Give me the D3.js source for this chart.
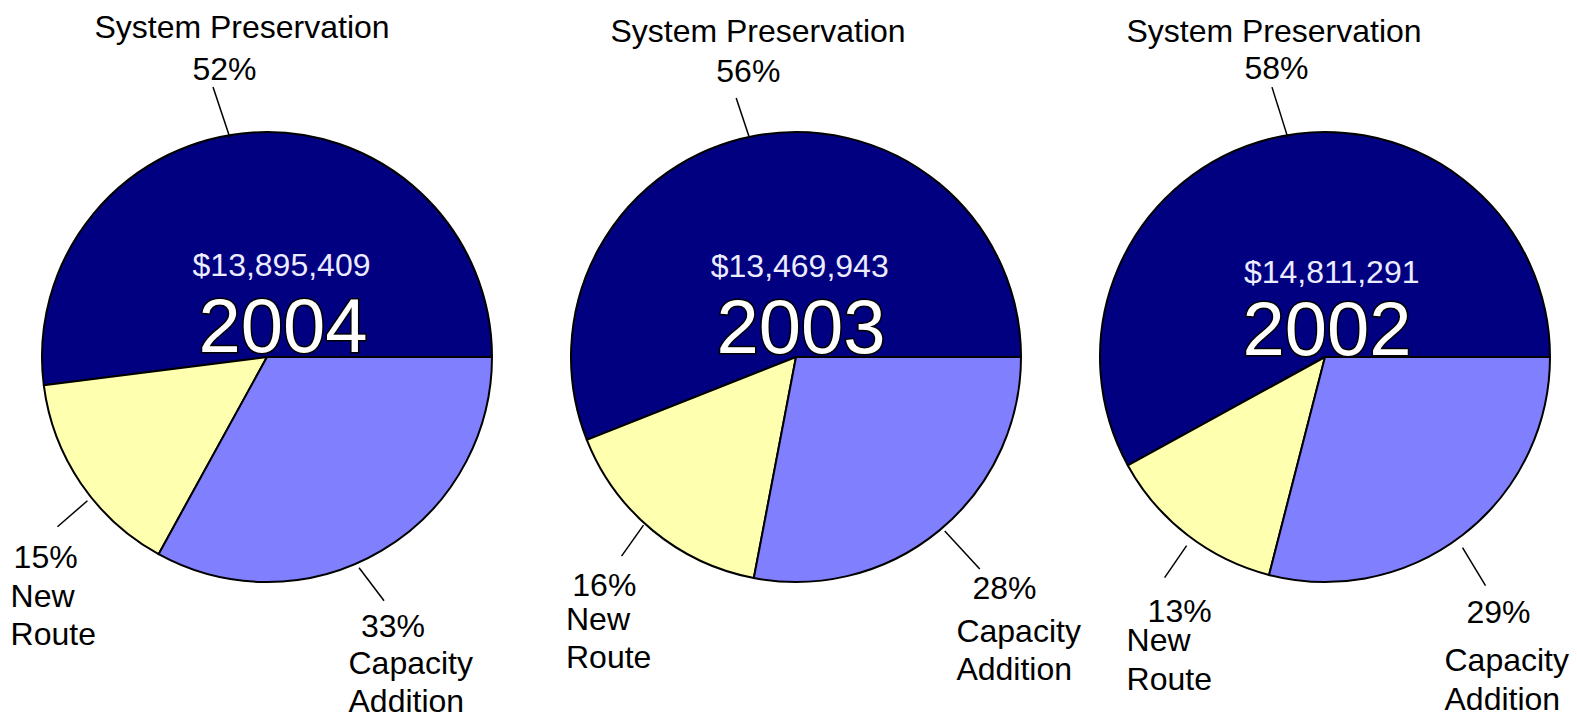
<!DOCTYPE html>
<html>
<head>
<meta charset="utf-8">
<script src="https://cdn.jsdelivr.net/npm/d3@7"></script>
<style>
  body { margin: 0; background: #fff; }
  svg { display: block; font-family: "Liberation Sans", Arial, sans-serif; }
</style>
</head>
<body>
<svg id="chart" width="1577" height="715"></svg>
<script>
// Data
const years = ["2004", "2003", "2002"];
const totals = ["$13,895,409", "$13,469,943", "$14,811,291"];
const categories = ["System Preservation", "New Route", "Capacity Addition"];
const systemPreservation = [52, 56, 58];
const newRoute = [15, 16, 13];
const capacityAddition = [33, 28, 29];
const labelLines = [["System Preservation"], ["New", "Route"], ["Capacity", "Addition"]];

// Styles / layout
const colors = ["#000080", "#FFFFB0", "#8080FF"];
const width = 1577, height = 715;
const radius = 225;
const centerY = 357;
const fontSize = 32;

// label offsets relative to each pie centre (pct line, name lines, leader)
const labelLayout = [
  [
    { anchor: "middle", pct: [-42.5, -277], name: [[-25, -319]], leader: { t: 0.532, dr: -3, dx: -17, dy: -51 } },
    { anchor: "start", pct: [-253.4, 211], name: [[-256.4, 250], [-256.4, 288]], leader: { t: 0.583, dr: 5, dx: -30, dy: 26 } },
    { anchor: "start", pct: [94, 279.7], name: [[81.5, 317], [81.5, 354.5]], leader: { t: 0.441, dr: 5, dx: 25, dy: 33 } }
  ],
  [
    { anchor: "middle", pct: [-47.7, -275.3], name: [[-38, -315.3]], leader: { t: 0.506, dr: 0, dx: -13, dy: -39 } },
    { anchor: "start", pct: [-223.7, 239], name: [[-230, 273], [-230, 311]], leader: { t: 0.455, dr: 2, dx: -22, dy: 31 } },
    { anchor: "start", pct: [176.5, 242], name: [[160.4, 284.7], [160.4, 323]], leader: { t: 0.509, dr: 4, dx: 35, dy: 38 } }
  ],
  [
    { anchor: "middle", pct: [-48.5, -278], name: [[-51, -315.3]], leader: { t: 0.477, dr: -3, dx: -16, dy: -51 } },
    { anchor: "start", pct: [-177.4, 264.7], name: [[-198.4, 293.7], [-198.4, 333]], leader: { t: 0.533, dr: 9, dx: -22, dy: 32 } },
    { anchor: "start", pct: [141.4, 265.7], name: [[119.5, 313.7], [119.5, 353]], leader: { t: 0.481, dr: 10, dx: 23, dy: 38 } }
  ]
];
const innerLayout = [
  { total: [14.5, -81.3], year: [16, -5.3] },
  { total: [3.7, -80.3], year: [5, -4] },
  { total: [6.7, -73.7], year: [2, -2] }
];

const svg = d3.select("#chart");

// pie centres
const xScale = d3.scalePoint()
  .domain(years)
  .range([267, 1325]);

// slices run counter-clockwise from 3 o'clock
const pie = d3.pie()
  .sort(null)
  .value(d => d.value)
  .startAngle(Math.PI / 2)
  .endAngle(Math.PI / 2 - 2 * Math.PI);

const arc = d3.arc()
  .innerRadius(0)
  .outerRadius(radius);

years.forEach((year, i) => {
  const values = [systemPreservation[i], newRoute[i], capacityAddition[i]];
  const data = categories.map((c, k) => ({ category: c, value: values[k], k: k }));
  const cx = xScale(year);

  const g = svg.append("g")
    .attr("transform", `translate(${cx}, ${centerY})`);

  // Draw the slices
  const slices = pie(data);
  g.selectAll("path")
    .data(slices)
    .enter()
    .append("path")
    .attr("d", arc)
    .attr("fill", d => colors[d.data.k])
    .attr("stroke", "#000")
    .attr("stroke-width", 2)
    .attr("stroke-linejoin", "round");

  // Draw the leader lines and labels
  slices.forEach((s, k) => {
    const lay = labelLayout[i][k];
    const a = s.startAngle + lay.leader.t * (s.endAngle - s.startAngle);
    const r = radius + lay.leader.dr;
    const x1 = r * Math.sin(a), y1 = -r * Math.cos(a);
    g.append("line")
      .attr("x1", x1).attr("y1", y1)
      .attr("x2", x1 + lay.leader.dx).attr("y2", y1 + lay.leader.dy)
      .attr("stroke", "#000")
      .attr("stroke-width", 1.5);

    g.append("text")
      .attr("x", lay.pct[0]).attr("y", lay.pct[1])
      .attr("text-anchor", lay.anchor)
      .attr("font-size", fontSize + "px")
      .attr("fill", "#000")
      .text(s.data.value + "%");

    labelLines[k].forEach((line, j) => {
      g.append("text")
        .attr("x", lay.name[j][0]).attr("y", lay.name[j][1])
        .attr("text-anchor", lay.anchor)
        .attr("font-size", fontSize + "px")
        .attr("fill", "#000")
        .text(line);
    });
  });

  // Total and year inside the pie
  const inner = innerLayout[i];
  g.append("text")
    .attr("x", inner.total[0]).attr("y", inner.total[1])
    .attr("text-anchor", "middle")
    .attr("font-size", "32px")
    .attr("fill", "#ececff")
    .text(totals[i]);

  g.append("text")
    .attr("x", inner.year[0]).attr("y", inner.year[1])
    .attr("text-anchor", "middle")
    .attr("font-size", "76px")
    .attr("fill", "#fff")
    .attr("stroke", "#000")
    .attr("stroke-width", 3)
    .attr("paint-order", "stroke")
    .text(year);
});
</script>
</body>
</html>
